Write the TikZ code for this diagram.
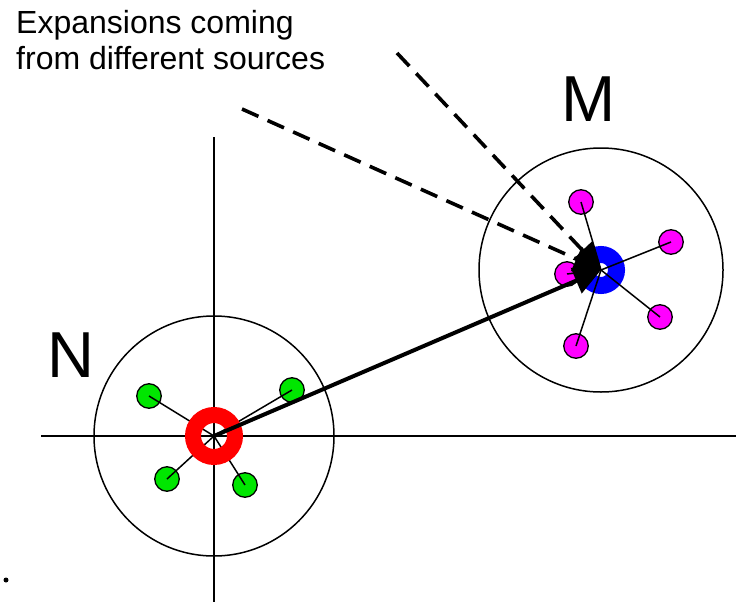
\documentclass[tikz,border=0pt]{standalone}
\usepackage{fontspec}
\setmainfont{Liberation Sans}
\usetikzlibrary{arrows.meta}
\definecolor{dotgreen}{RGB}{0,230,0}
\definecolor{dotmagenta}{RGB}{255,0,255}
\definecolor{ringred}{RGB}{255,0,0}
\definecolor{ringblue}{RGB}{0,0,255}
\begin{document}
\begin{tikzpicture}[x=1pt,y=-1pt,
  bigcircle/.style={draw=black, line width=1.5pt},
  axisline/.style={draw=black, line width=1.6pt},
  spoke/.style={draw=black, line width=1.5pt},
  dotbase/.style={circle, draw=black, line width=1.3pt, minimum size=24.5pt, inner sep=0pt},
  greendot/.style={dotbase, fill=dotgreen},
  magentadot/.style={dotbase, fill=dotmagenta},
  mainarrow/.style={draw=black, line width=4pt, -{Triangle[length=27pt 0,width=27pt 0]}},
  dasharrow/.style={draw=black, line width=3.6pt, dash pattern=on 18pt off 10pt, -{Triangle[length=27pt 0,width=26pt 0]}},
  bigletter/.style={anchor=base, inner sep=0pt, font=\fontsize{65}{70}\selectfont},
  caption/.style={anchor=base west, inner sep=0pt, font=\fontsize{32}{36}\selectfont}
]
\useasboundingbox (0,0) rectangle (736,602);

% centres
\coordinate (Nc) at (214,436);
\coordinate (Mc) at (601,270);

% big circles
\draw[bigcircle] (Nc) circle[radius=120];
\draw[bigcircle] (Mc) circle[radius=122];

% axes
\coordinate (hl) at (41,436);
\coordinate (hr) at (736,436);
\coordinate (vt) at (214,137);
\coordinate (vb) at (214,602);
\draw[axisline] (hl) -- (hr);
\draw[axisline] (vt) -- (vb);

% N cluster
\node[greendot] (g1) at (149,396) {};
\node[greendot] (g2) at (292,390) {};
\node[greendot] (g3) at (167,479) {};
\node[greendot] (g4) at (245,485) {};
\foreach \g in {g1,g2,g3,g4} \draw[spoke] (Nc) -- (\g.center);
\draw[ringred, line width=16pt] (Nc) circle[radius=21];

% M cluster
\node[magentadot] (m1) at (581,202) {};
\node[magentadot] (m2) at (671,242) {};
\node[magentadot] (m3) at (660,317) {};
\node[magentadot] (m4) at (576,346) {};
\node[magentadot] (m5) at (567,274) {};
\draw[ringblue, line width=17pt] (Mc) circle[radius=15.5];
\foreach \m in {m1,m2,m3,m4,m5} \draw[spoke] (Mc) -- (\m.center);

% arrows
\coordinate (d1) at (397,53);
\coordinate (d2) at (242,109);
\draw[dasharrow] (d1) -- (Mc);
\draw[dasharrow] (d2) -- (Mc);
\draw[mainarrow] (Nc) -- (Mc);

% labels
\node[bigletter] (Nlabel) at (71,377) {N};
\node[bigletter] (Mlabel) at (588.5,121) {M};
\node[caption] (cap1) at (16,34) {Expansions coming};
\node[caption] (cap2) at (16,70) {from different sources};

% stray mark at left edge
\fill (6,580) circle[radius=2.5];
\end{tikzpicture}
\end{document}
